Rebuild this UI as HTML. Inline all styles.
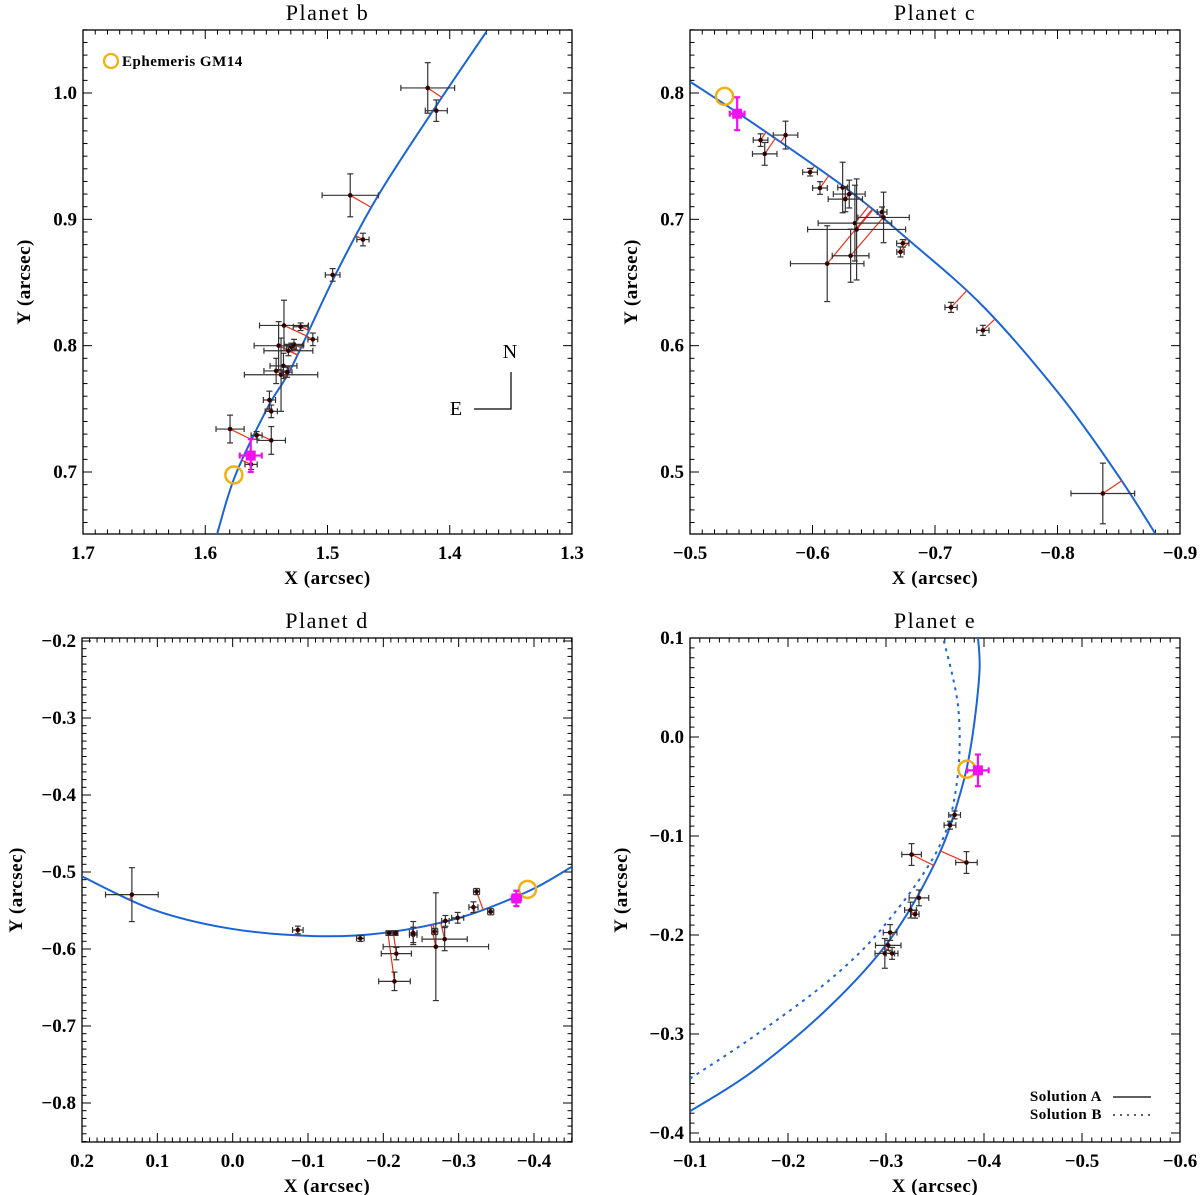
<!DOCTYPE html>
<html><head><meta charset="utf-8"><style>
body{margin:0;background:#fff}
svg{display:block}
text{font-family:"Liberation Serif",serif;fill:#000}
.tl{font-size:19px;font-weight:bold}
.tt{font-size:22px;letter-spacing:1.5px}
.al{font-size:19px;font-weight:bold;letter-spacing:0.5px}
</style></head><body>
<svg id="fig" width="1200" height="1195" viewBox="0 0 1200 1195" xmlns="http://www.w3.org/2000/svg"></svg>
<script>
// ---- Planet b data ----
const bX=[1.418,1.411,1.4814,1.471,1.4958,1.5356,1.522,1.512,1.540,1.5274,1.5296,1.532,1.542,1.536,1.538,1.533,1.5475,1.546,1.5797,1.558,1.546,1.5625];
const bY=[1.004,0.986,0.919,0.884,0.856,0.816,0.815,0.805,0.800,0.801,0.799,0.796,0.780,0.784,0.777,0.779,0.757,0.748,0.734,0.729,0.725,0.706];
const bXE=[0.022,0.009,0.023,0.005,0.006,0.02,0.006,0.004,0.02,0.008,0.004,0.02,0.01,0.011,0.03,0.004,0.005,0.005,0.0115,0.0045,0.0116,0.005];
const bYE=[0.02,0.0085,0.017,0.005,0.005,0.02,0.003,0.005,0.019,0.004,0.003,0.004,0.01,0.01,0.029,0.004,0.007,0.005,0.011,0.003,0.011,0.004];
const bCurveX=[1.5904,1.5753,1.5484,1.5296,1.4936,1.4591,1.4137,1.370];
const bCurveY=[0.6506,0.6976,0.752,0.7825,0.856,0.918,0.986,1.0485];
const bMag=[1.5628,0.713,0.009,0.013];
const bEph=[1.5766,0.6976];
// ---- Planet c data ----
const cX=[-0.5576,-0.561,-0.578,-0.598,-0.6061,-0.6246,-0.6268,-0.630,-0.6346,-0.636,-0.6311,-0.612,-0.6568,-0.658,-0.6737,-0.6718,-0.7131,-0.7391,-0.837];
const cY=[0.7627,0.7518,0.7667,0.7373,0.7248,0.7252,0.716,0.720,0.697,0.692,0.6712,0.6649,0.7058,0.7015,0.681,0.6742,0.6303,0.6121,0.483];
const cXE=[0.006,0.01,0.01,0.006,0.006,0.004,0.014,0.013,0.03,0.04,0.015,0.03,0.004,0.021,0.005,0.003,0.005,0.005,0.026];
const cYE=[0.005,0.009,0.011,0.003,0.005,0.02,0.01,0.011,0.03,0.04,0.021,0.03,0.004,0.02,0.003,0.004,0.004,0.004,0.024];
const cCurveX=[-0.5,-0.5516,-0.6268,-0.6768,-0.7394,-0.802,-0.849,-0.880];
const cCurveY=[0.809,0.776,0.725,0.685,0.631,0.561,0.498,0.451];
const cMag=[-0.5385,0.7836,0.006,0.013];
const cEph=[-0.5282,0.7973];
// ---- Planet d data ----
const dX=[0.1338,-0.0865,-0.1695,-0.2076,-0.2163,-0.2173,-0.2148,-0.2397,-0.2397,-0.2682,-0.2697,-0.2814,-0.2824,-0.2987,-0.3196,-0.3237,-0.3425];
const dY=[-0.5294,-0.5753,-0.5862,-0.5793,-0.5793,-0.606,-0.642,-0.5817,-0.5793,-0.5773,-0.597,-0.5872,-0.5635,-0.5595,-0.5457,-0.5254,-0.5516];
const dXE=[0.035,0.007,0.005,0.004,0.003,0.02,0.021,0.005,0.005,0.004,0.07,0.03,0.005,0.008,0.006,0.004,0.004];
const dYE=[0.035,0.005,0.004,0.003,0.003,0.008,0.012,0.01,0.015,0.004,0.07,0.015,0.007,0.007,0.007,0.004,0.004];
const dCurveX=[0.2,0.1064,0.0046,-0.1074,-0.199,-0.3008,-0.3924,-0.4499];
const dCurveY=[-0.5057,-0.5486,-0.5733,-0.5832,-0.5793,-0.5595,-0.525,-0.4933];
const dMag=[-0.3766,-0.5343,0.006,0.01];
const dEph=[-0.3914,-0.5225];
// ---- Planet e data ----
const eX=[-0.37,-0.3653,-0.3261,-0.3821,-0.3336,-0.325,-0.3297,-0.3042,-0.3023,-0.2988,-0.3062];
const eY=[-0.0787,-0.0891,-0.1187,-0.1268,-0.1625,-0.1748,-0.179,-0.1975,-0.2105,-0.2186,-0.2186];
const eXE=[0.006,0.006,0.01,0.011,0.01,0.006,0.004,0.007,0.013,0.01,0.006];
const eYE=[0.004,0.004,0.011,0.011,0.008,0.008,0.004,0.008,0.005,0.015,0.006];
const eCurveAX=[-0.1,-0.1646,-0.2428,-0.3054,-0.3524,-0.3758,-0.3876,-0.3954,-0.3934];
const eCurveAY=[-0.378,-0.3373,-0.272,-0.2028,-0.1221,-0.0568,-0.003,0.0662,0.1046];
const eCurveBX=[-0.1,-0.1646,-0.2428,-0.2976,-0.3524,-0.3719,-0.3739,-0.3582];
const eCurveBY=[-0.345,-0.3028,-0.2451,-0.1913,-0.1145,-0.0491,0.0277,0.1008];
const eMag=[-0.3938,-0.0337,0.011,0.016];
const eEph=[-0.3825,-0.0326];

const NS="http://www.w3.org/2000/svg";
const fig=document.getElementById('fig');
function mk(tag,attrs,parent){const e=document.createElementNS(NS,tag);for(const k in attrs)e.setAttribute(k,attrs[k]);(parent||fig).appendChild(e);return e;}
function lin(d0,p0,d1,p1){return v=>p0+(v-d0)*(p1-p0)/(d1-d0);}
function smooth(pts){let s='M'+pts[0][0]+','+pts[0][1];for(let i=0;i<pts.length-1;i++){const p0=pts[i-1]||pts[i],p1=pts[i],p2=pts[i+1],p3=pts[i+2]||p2;
s+=' C'+(p1[0]+(p2[0]-p0[0])/6)+','+(p1[1]+(p2[1]-p0[1])/6)+' '+(p2[0]-(p3[0]-p1[0])/6)+','+(p2[1]-(p3[1]-p1[1])/6)+' '+p2[0]+','+p2[1];}return s;}
function nearest(pts,px,py){let best=null,bd=1e9;for(let i=0;i<pts.length-1;i++){const ax=pts[i][0],ay=pts[i][1],bx=pts[i+1][0],by=pts[i+1][1];const dx=bx-ax,dy=by-ay;let t=((px-ax)*dx+(py-ay)*dy)/(dx*dx+dy*dy);t=Math.max(0,Math.min(1,t));const qx=ax+t*dx,qy=ay+t*dy;const d=(qx-px)**2+(qy-py)**2;if(d<bd){bd=d;best=[qx,qy];}}return best;}
function fmt(v){const s=Math.abs(v).toFixed(1);return (v<-1e-9?'\u2212':'')+s;}

function panel(cfg){
  const g=mk('g',{});
  
  
  const sx=lin(cfg.xa[0],cfg.xa[1],cfg.xa[2],cfg.xa[3]);
  const sy=lin(cfg.ya[0],cfg.ya[1],cfg.ya[2],cfg.ya[3]);
  const [L,T,R,B]=cfg.box;
  const cid='clip-'+cfg.name;
  const cp=mk('clipPath',{id:cid},g);mk('rect',{x:L,y:T,width:R-L,height:B-T},cp);
  const tg=mk('g',{stroke:'#000','stroke-width':1},g);
  
  function xticks(){const a=cfg.xr[0],b=cfg.xr[1];const lo=Math.ceil(Math.min(a,b)*100-1e-6),hi=Math.floor(Math.max(a,b)*100+1e-6);
    for(let i=lo;i<=hi;i++){const p=sx(i/100);if(p<L-0.5||p>R+0.5)continue;const len=(i%10===0)?9:4.5;
      mk('line',{x1:p,y1:B,x2:p,y2:B-len},tg);mk('line',{x1:p,y1:T,x2:p,y2:T+len},tg);
      if(i%10===0){const t=mk('text',{x:p,y:B+25,'text-anchor':'middle',class:'tl'},g);t.textContent=fmt(i/100);}}}
  function yticks(){const a=cfg.yr[0],b=cfg.yr[1];const lo=Math.ceil(Math.min(a,b)*100-1e-6),hi=Math.floor(Math.max(a,b)*100+1e-6);
    for(let i=lo;i<=hi;i++){const p=sy(i/100);if(p<T-0.5||p>B+0.5)continue;const len=(i%10===0)?9:4.5;
      mk('line',{x1:L,y1:p,x2:L+len,y2:p},tg);mk('line',{x1:R,y1:p,x2:R-len,y2:p},tg);
      if(i%10===0){const t=mk('text',{x:L-6,y:p+6,'text-anchor':'end',class:'tl'},g);t.textContent=fmt(i/100);}}}
  xticks();yticks();
  const fr=mk('rect',{x:L,y:T,width:R-L,height:B-T,fill:'none',stroke:'#000','stroke-width':1.3},g);
  
  const ti=mk('text',{x:(L+R)/2,y:T-10,'text-anchor':'middle',class:'tt'},g);ti.textContent=cfg.title;
  
  const xl=mk('text',{x:(L+R)/2,y:B+50,'text-anchor':'middle',class:'al'},g);xl.textContent='X (arcsec)';
  
  const yx=cfg.ylx;const yl=mk('text',{x:yx,y:(T+B)/2,'text-anchor':'middle',class:'al',transform:'rotate(-90 '+yx+' '+(T+B)/2+')'},g);yl.textContent='Y (arcsec)';
  
  const cg=mk('g',{'clip-path':'url(#'+cid+')'},g);
  cfg.curves.forEach((c,ci)=>{const pts=c.x.map((v,i)=>[sx(v),sy(c.y[i])]);
    const p=mk('path',{d:smooth(pts),fill:'none',stroke:'#1a64d8','stroke-width':2,'stroke-dasharray':c.dash||'none'},cg);
    });
  const tmp=cg.querySelector('path');const tl=tmp.getTotalLength();const samp=[];for(let s=0;s<=tl;s+=2){const q=tmp.getPointAtLength(s);samp.push([q.x,q.y]);}
  cfg.px.forEach((v,i)=>{const x=sx(v),y=sy(cfg.py[i]);const q=nearest(samp,x,y);
    const l=mk('line',{x1:x,y1:y,x2:q[0],y2:q[1],stroke:'#e8321e','stroke-width':1.2},cg);
    });
  cfg.px.forEach((v,i)=>{const x=sx(v),y=sy(cfg.py[i]);
    const x1=sx(v-cfg.xe[i]),x2=sx(v+cfg.xe[i]),y1=sy(cfg.py[i]-cfg.ye[i]),y2=sy(cfg.py[i]+cfg.ye[i]);
    const eg=mk('g',{stroke:'#333','stroke-width':1.2},cg);
    
    mk('line',{x1:x1,y1:y,x2:x2,y2:y},eg);mk('line',{x1:x,y1:y1,x2:x,y2:y2},eg);
    mk('line',{x1:x1,y1:y-3,x2:x1,y2:y+3},eg);mk('line',{x1:x2,y1:y-3,x2:x2,y2:y+3},eg);
    mk('line',{x1:x-3,y1:y1,x2:x+3,y2:y1},eg);mk('line',{x1:x-3,y1:y2,x2:x+3,y2:y2},eg);
    const c=mk('circle',{cx:x,cy:y,r:2.3,fill:'#300'},cg);
    });
  const ec=mk('circle',{cx:sx(cfg.eph[0]),cy:sy(cfg.eph[1]),r:8.5,fill:'none',stroke:'#f0b010','stroke-width':2.5},cg);
  
  const m=cfg.mag;const mx=sx(m[0]),my=sy(m[1]);const mg=mk('g',{stroke:'#f010f0','stroke-width':2.2},cg);
  
  const mx1=sx(m[0]-m[2]),mx2=sx(m[0]+m[2]),my1=sy(m[1]-m[3]),my2=sy(m[1]+m[3]);
  mk('line',{x1:mx1,y1:my,x2:mx2,y2:my},mg);mk('line',{x1:mx,y1:my1,x2:mx,y2:my2},mg);
  mk('line',{x1:mx1,y1:my-3,x2:mx1,y2:my+3},mg);mk('line',{x1:mx2,y1:my-3,x2:mx2,y2:my+3},mg);
  mk('line',{x1:mx-3,y1:my1,x2:mx+3,y2:my1},mg);mk('line',{x1:mx-3,y1:my2,x2:mx+3,y2:my2},mg);
  mk('rect',{x:mx-5,y:my-5,width:10,height:10,fill:'#f010f0',stroke:'none'},mg);
  return g;
}

panel({name:'panel-planet-b',title:'Planet b',xa:[1.7,83,1.3,572],ya:[1.0,93,0.7,472],box:[83,30,572,534],xr:[1.3,1.7],yr:[0.65,1.05],ylx:30,
  px:bX,py:bY,xe:bXE,ye:bYE,curves:[{x:bCurveX,y:bCurveY,name:'orbit-fit'}],mag:bMag,eph:bEph});
panel({name:'panel-planet-c',title:'Planet c',xa:[-0.5,690,-0.9,1180],ya:[0.8,93,0.5,472],box:[690,30,1180,534],xr:[-0.9,-0.5],yr:[0.45,0.85],ylx:637,
  px:cX,py:cY,xe:cXE,ye:cYE,curves:[{x:cCurveX,y:cCurveY,name:'orbit-fit'}],mag:cMag,eph:cEph});
panel({name:'panel-planet-d',title:'Planet d',xa:[0.2,82,-0.4,534],ya:[-0.2,641,-0.8,1103],box:[82,638,572,1142],xr:[-0.46,0.2],yr:[-0.86,-0.19],ylx:22,
  px:dX,py:dY,xe:dXE,ye:dYE,curves:[{x:dCurveX,y:dCurveY,name:'orbit-fit'}],mag:dMag,eph:dEph});
panel({name:'panel-planet-e',title:'Planet e',xa:[-0.1,690,-0.6,1180],ya:[0.1,638,-0.4,1133],box:[690,638,1180,1142],xr:[-0.6,-0.1],yr:[-0.41,0.1],ylx:627,
  px:eX,py:eY,xe:eXE,ye:eYE,curves:[{x:eCurveAX,y:eCurveAY,name:'orbit-solution-a'},{x:eCurveBX,y:eCurveBY,name:'orbit-solution-b',dash:'3 5'}],mag:eMag,eph:eEph});

const lg=mk('g',{});


mk('circle',{cx:111,cy:61,r:7,fill:'none',stroke:'#f0b010','stroke-width':2.3},lg);
const lt=mk('text',{x:122,y:66,'font-size':'15px','font-weight':'bold','letter-spacing':'0.5px'},lg);lt.textContent='Ephemeris GM14';
const cg2=mk('g',{});


mk('polyline',{points:'511,372 511,409 474,409',fill:'none',stroke:'#000','stroke-width':1.2},cg2);
const tn=mk('text',{x:510,y:358,'text-anchor':'middle','font-size':'20px'},cg2);tn.textContent='N';
const te=mk('text',{x:456,y:415,'text-anchor':'middle','font-size':'20px'},cg2);te.textContent='E';
const le=mk('g',{});


const la=mk('text',{x:1102,y:1101,'text-anchor':'end','font-size':'15px','font-weight':'bold','letter-spacing':'0.5px'},le);la.textContent='Solution A';
mk('line',{x1:1113,y1:1097,x2:1151,y2:1097,stroke:'#000','stroke-width':1.3},le);
const lb=mk('text',{x:1102,y:1119,'text-anchor':'end','font-size':'15px','font-weight':'bold','letter-spacing':'0.5px'},le);lb.textContent='Solution B';
mk('line',{x1:1113,y1:1115,x2:1151,y2:1115,stroke:'#000','stroke-width':1.3,'stroke-dasharray':'2 5'},le);
</script>
</body></html>
